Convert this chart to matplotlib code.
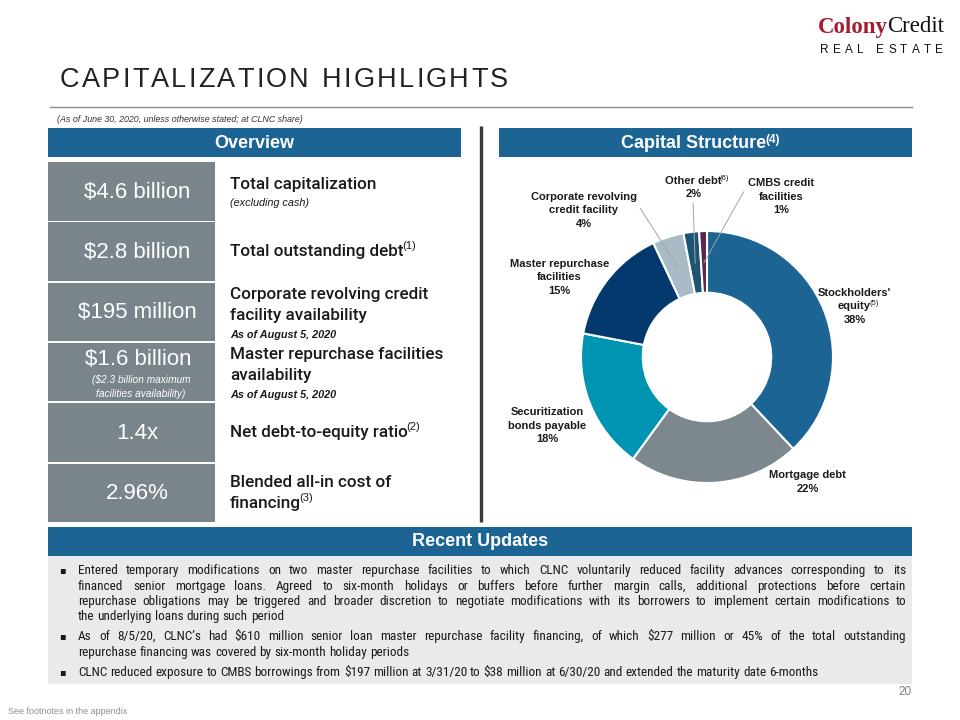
import matplotlib
matplotlib.use("Agg")
import matplotlib.pyplot as plt
from matplotlib import font_manager
from matplotlib.patches import Rectangle
import numpy as np

# ---- data ----
segments = ["Stockholders' equity", "Mortgage debt", "Securitization bonds payable",
            "Master repurchase facilities", "Corporate revolving credit facility",
            "Other debt", "CMBS credit facilities"]
shares = [38, 22, 18, 15, 4, 2, 1]
seg_labels = ["Stockholders'\nequity", "Mortgage debt", "Securitization\nbonds payable",
              "Master repurchase\nfacilities", "Corporate revolving\ncredit facility",
              "Other debt", "CMBS credit\nfacilities"]
seg_notes = ["(5)", "", "", "", "", "(6)", ""]
seg_colors = ["#1B6494", "#7C878E", "#0094B3", "#03396C", "#A9BBC6", "#1D5474", "#5C2453"]

metric_values = ["$4.6 billion", "$2.8 billion", "$195 million", "$1.6 billion", "1.4x", "2.96%"]
metric_notes = ["", "", "", "($2.3 billion maximum\nfacilities availability)", "", ""]
metric_labels = ["Total capitalization", "Total outstanding debt",
                 "Corporate revolving credit\nfacility availability",
                 "Master repurchase facilities\navailability",
                 "Net debt-to-equity ratio", "Blended all-in cost of\nfinancing"]
metric_footnotes = ["", "(1)", "", "", "(2)", "(3)"]
metric_sub = ["(excluding cash)", "", "As of August 5, 2020", "As of August 5, 2020", "", ""]

updates = [
    ["Entered temporary modifications on two master repurchase facilities to which CLNC voluntarily reduced facility advances corresponding to its",
     "financed senior mortgage loans. Agreed to six-month holidays or buffers before further margin calls, additional protections before certain",
     "repurchase obligations may be triggered and broader discretion to negotiate modifications with its borrowers to implement certain modifications to",
     "the underlying loans during such period"],
    ["As of 8/5/20, CLNC\u2019s had $610 million senior loan master repurchase facility financing, of which $277 million or 45% of the total outstanding",
     "repurchase financing was covered by six-month holiday periods"],
    ["CLNC reduced exposure to CMBS borrowings from $197 million at 3/31/20 to $38 million at 6/30/20 and extended the maturity date 6-months"],
]

# ---- styling ----
names = {f.name for f in font_manager.fontManager.ttflist}
SANS = "Liberation Sans"
LABEL = "Roboto" if "Roboto" in names else "Liberation Sans"

# narrow face for the body copy, if one is installed
BODY_FP = font_manager.FontProperties(family=SANS)
for key in ["LiberationSansNarrow-Regular", "RobotoCondensed-Regular", "DejaVuSansCondensed.ttf",
            "OpenSans_Condensed-Regular", "NotoSans-CondensedRegular"]:
    hits = [f.fname for f in font_manager.fontManager.ttflist if key in f.fname]
    if hits:
        BODY_FP = font_manager.FontProperties(fname=hits[0])
        break

BLUE = "#1B6494"
GRAY = "#7A848B"
INK = "#1A1A1A"

fig = plt.figure(figsize=(9.6, 7.2), dpi=100)
ov = fig.add_axes([0, 0, 1, 1])
ov.set_xlim(0, 960)
ov.set_ylim(720, 0)
ov.axis("off")
R = fig.canvas.get_renderer()


def box(x0, y0, x1, y1, color):
    ov.add_patch(Rectangle((x0, y0), x1 - x0, y1 - y0, facecolor=color, edgecolor="none"))


def width(art):
    return art.get_window_extent(R).width


def sup(art, s, size, color, dy=0, **kw):
    bb = art.get_window_extent(R)
    return ov.text(bb.x1 - 1.5, 720 - bb.y1 + dy, s, fontsize=size, color=color,
                   ha="left", va="top", family=SANS, **kw)


def spaced(s, x0, x1, y, **kw):
    arts = [ov.text(0, y, c, va="center", ha="left", **kw) for c in s if c != " "]
    ws = [width(a) for a in arts]
    nsp = s.count(" ")
    sw = np.mean(ws) * 0.55
    gap = (x1 - x0 - sum(ws) - nsp * sw) / (len(s) - 1)
    x, i = x0, 0
    for c in s:
        if c == " ":
            x += sw + gap
            continue
        arts[i].set_x(x)
        x += ws[i] + gap
        i += 1


def body_text(x, y, s, size):
    fp = BODY_FP.copy()
    fp.set_size(size)
    return ov.text(x, y, s, fontproperties=fp, color=INK, va="baseline", ha="left",
                   parse_math=False)


def justify(line, x0, x1, y, size, full):
    words = line.split(" ")
    arts = [body_text(0, y, w, size) for w in words]
    ws = [width(a) for a in arts]
    if full:
        gap = (x1 - x0 - sum(ws)) / (len(words) - 1)
    else:
        a, b = body_text(0, 0, "a a", size), body_text(0, 0, "aa", size)
        gap = width(a) - width(b)
        a.remove()
        b.remove()
    x = x0
    for a, w in zip(arts, ws):
        a.set_x(x)
        x += w + gap


# ---- header ----
c1 = ov.text(818, 27, "Colony", fontsize=16.5, family="Liberation Serif", fontweight="bold",
             color="#A51C30", va="center", ha="left")
ov.text(818 + width(c1) - 1, 27, "Credit", fontsize=16.5, family="Liberation Serif",
        color="#111111", va="center", ha="left")
spaced("REAL ESTATE", 820, 943, 50, fontsize=8.5, family=SANS, color="#111111")

spaced("CAPITALIZATION HIGHLIGHTS", 60, 508, 80, fontsize=19.5, family=SANS, color="#222222")
ov.plot([50, 912], [106.5, 106.5], color="#8C8C8C", lw=1)
ov.text(57, 119, "(As of June 30, 2020, unless otherwise stated; at CLNC share)",
        fontsize=6.4, style="italic", family=SANS, color="#333333", va="center", parse_math=False)

# section bars
box(48, 128, 461, 157, BLUE)
ov.text(254.5, 143, "Overview", fontsize=13, fontweight="bold", family=SANS, color="white",
        ha="center", va="center")
box(499, 128, 912, 157, BLUE)
cs = ov.text(694, 143, "Capital Structure", fontsize=13, fontweight="bold", family=SANS,
             color="white", ha="center", va="center")
sup(cs, "(4)", 8.5, "white", dy=-1, fontweight="bold")
ov.plot([481, 481], [126, 522], color="#3A3A3A", lw=2.4, solid_capstyle="butt")

# ---- overview table ----
pitch, rh = 60.3, 58.5
for i, val in enumerate(metric_values):
    top = 162 + i * pitch
    box(48, top, 215, top + rh, GRAY)
    if metric_notes[i]:
        ov.text(138, top + 17, val.replace("$", r"\$"), fontsize=16, family=SANS, color="white",
                ha="center", va="center")
        for k, ln in enumerate(metric_notes[i].split("\n")):
            ov.text(141, top + 37 + 14 * k, ln, fontsize=7.3, style="italic", family=SANS,
                    color="white", ha="center", va="center", parse_math=False)
    else:
        ov.text(137, top + 30, val.replace("$", r"\$"), fontsize=16, family=SANS, color="white",
                ha="center", va="center")

    lines = metric_labels[i].split("\n")
    has_sub = bool(metric_sub[i])
    span = 21 * (len(lines) - 1) + (19 if has_sub else 0)
    y0 = top + 29.5 - span / 2 + (2.5 if has_sub else 0)
    last = None
    for k, ln in enumerate(lines):
        last = ov.text(230, y0 + 21 * k, ln, fontsize=12.3, family=LABEL, fontweight="medium",
                       color=INK, ha="left", va="center")
    if metric_footnotes[i]:
        sup(last, metric_footnotes[i], 8, INK, dy=-3)
    if has_sub:
        ysub = y0 + 21 * (len(lines) - 1) + 19
        weight = "normal" if metric_sub[i].startswith("(") else "bold"
        ov.text(230, ysub, metric_sub[i], fontsize=7.8, style="italic", fontweight=weight,
                family=SANS, color=INK, ha="left", va="center")

# ---- donut ----
cx, cy, rad = 707, 357, 126
pax = fig.add_axes([(cx - rad) / 960, (720 - cy - rad) / 720, 2 * rad / 960, 2 * rad / 720])
pax.set_zorder(2)
pax.patch.set_visible(False)
wedges, _ = pax.pie(shares, colors=seg_colors, startangle=90, counterclock=False, radius=1,
                    wedgeprops=dict(width=0.49, edgecolor="white", linewidth=1.5))
pax.set_xlim(-1, 1)
pax.set_ylim(-1, 1)

# label anchors (top line), in donut units
label_pos = [(1.17, 0.51), (0.80, -0.94), (-1.27, -0.44), (-1.17, 0.74),
             (-0.98, 1.27), (-0.11, 1.40), (0.59, 1.38)]
leader_from = {4: (-0.53, 1.18), 5: (-0.11, 1.22), 6: (0.29, 1.31)}

for i, w in enumerate(wedges):
    lx, ly = label_pos[i]
    lines = seg_labels[i].split("\n") + [f"{shares[i]}%"]
    arts = []
    for k, ln in enumerate(lines):
        arts.append(pax.annotate(ln, xy=(lx, ly), xytext=(0, -k * 13.5 * 0.72),
                                 textcoords="offset points", ha="center", va="center",
                                 fontsize=8, fontweight="bold", family=SANS, color=INK,
                                 annotation_clip=False))
    if seg_notes[i]:
        sup(arts[len(lines) - 2], seg_notes[i], 5.5, INK, dy=-1)
    if i in leader_from:
        mid = np.deg2rad((w.theta1 + w.theta2) / 2)
        sx, sy = leader_from[i]
        pax.plot([sx, 0.75 * np.cos(mid)], [sy, 0.75 * np.sin(mid)], color="#A6A6A6",
                 lw=0.7, clip_on=False, zorder=5)

# ---- recent updates ----
box(48, 527, 912, 556, BLUE)
ov.text(480, 542, "Recent Updates", fontsize=13, fontweight="bold", family=SANS, color="white",
        ha="center", va="center")
box(48, 556, 912, 684, "#E9EAEC")

probe = body_text(0, 0, updates[2][0], 10)
body_size = min(10 * 788 / width(probe), 9.5)
probe.remove()

y = 570
for para in updates:
    ov.text(62, y, "\u25aa", fontsize=7, family="DejaVu Sans", color=INK, ha="center", va="center")
    for k, ln in enumerate(para):
        # whole-pixel baselines keep the separately drawn words on one line
        justify(ln, 78, 906, int(round(y + 4)), body_size, full=(k < len(para) - 1))
        y += 15.5
    y += 4.5

# ---- footer ----
ov.text(912, 692, "20", fontsize=8.5, family=SANS, color="#7F7F7F", ha="right", va="center")
ov.text(8, 711, "See footnotes in the appendix", fontsize=6.5, family=SANS, color="#8A9096",
        ha="left", va="center")

fig.savefig("out.png", dpi=100, facecolor="white")
